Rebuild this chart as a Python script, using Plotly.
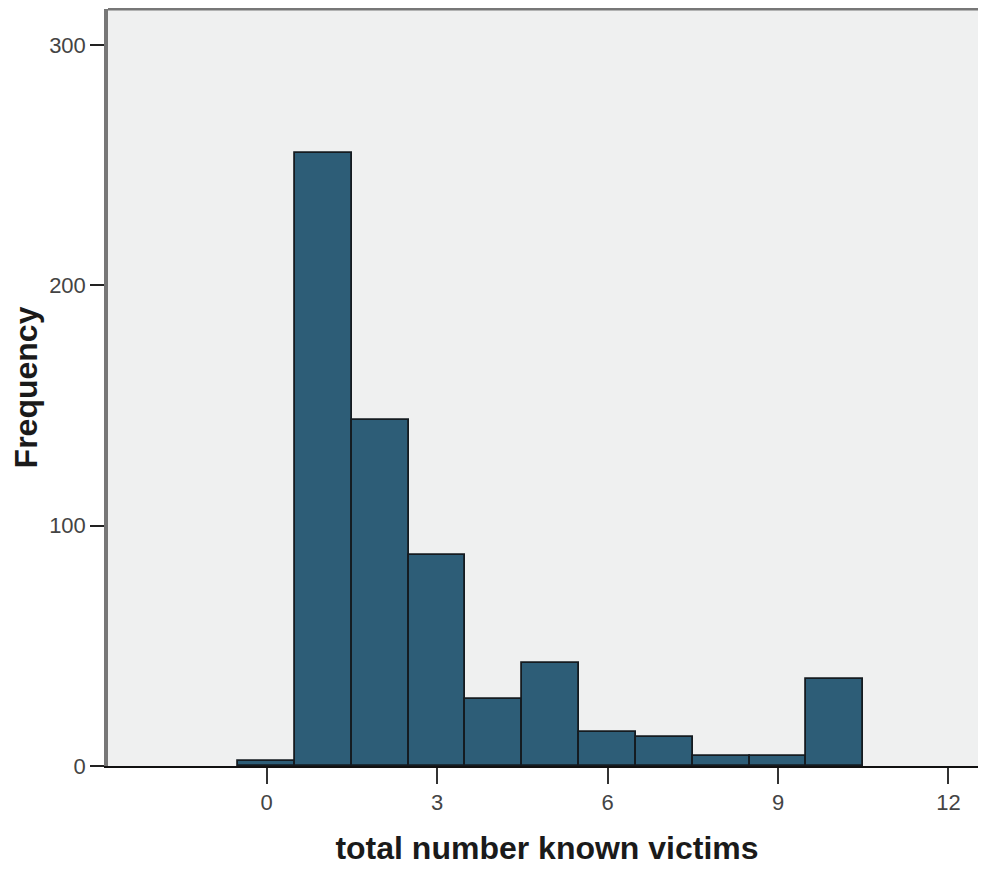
import plotly.graph_objects as go

victims = [0, 1, 2, 3, 4, 5, 6, 7, 8, 9, 10]
frequency = [2, 255, 144, 88, 28, 43, 14, 12, 4, 4, 36]
x_ticks = [0, 3, 6, 9, 12]
y_ticks = [0, 100, 200, 300]

fig = go.Figure()
fig.add_trace(go.Bar(
    x=victims, y=frequency, width=1,
    marker=dict(color="#2D5D77", line=dict(color="#151b20", width=1.8)),
    hoverinfo="x+y",
))

fig.update_layout(
    width=978, height=864,
    margin=dict(l=100, r=0, t=1, b=106),
    paper_bgcolor="white",
    plot_bgcolor="#EFF0F0",
    showlegend=False,
    bargap=0,
    font=dict(family="Liberation Sans, Arial, sans-serif", color="#333"),
    xaxis=dict(
        range=[-2.79, 12.66],
        tickmode="array", tickvals=x_ticks, ticktext=[str(v) for v in x_ticks],
        ticks="outside", ticklen=16, tickwidth=2, tickcolor="#333",
        showgrid=False, zeroline=False,
        showline=True, linecolor="#111", linewidth=2,
        tickfont=dict(size=22, color="#444"),
        title=dict(text="<b>total number known victims</b>",
                   font=dict(size=32, color="#1a1a1a"), standoff=22),
    ),
    yaxis=dict(
        range=[0, 315],
        tickmode="array", tickvals=y_ticks, ticktext=[str(v) for v in y_ticks],
        ticks="outside", ticklen=14, tickwidth=2, tickcolor="#222",
        showgrid=False, zeroline=False,
        showline=True, linecolor="#777", linewidth=3.5,
        tickfont=dict(size=22, color="#444"),
        title=dict(text="<b>Frequency</b>",
                   font=dict(size=32, color="#1a1a1a"), standoff=8),
    ),
    shapes=[dict(type="line", xref="paper", yref="paper",
                 x0=0, x1=1, y0=1, y1=1,
                 line=dict(color="#777", width=3))],
)

fig.write_html("out.html")
